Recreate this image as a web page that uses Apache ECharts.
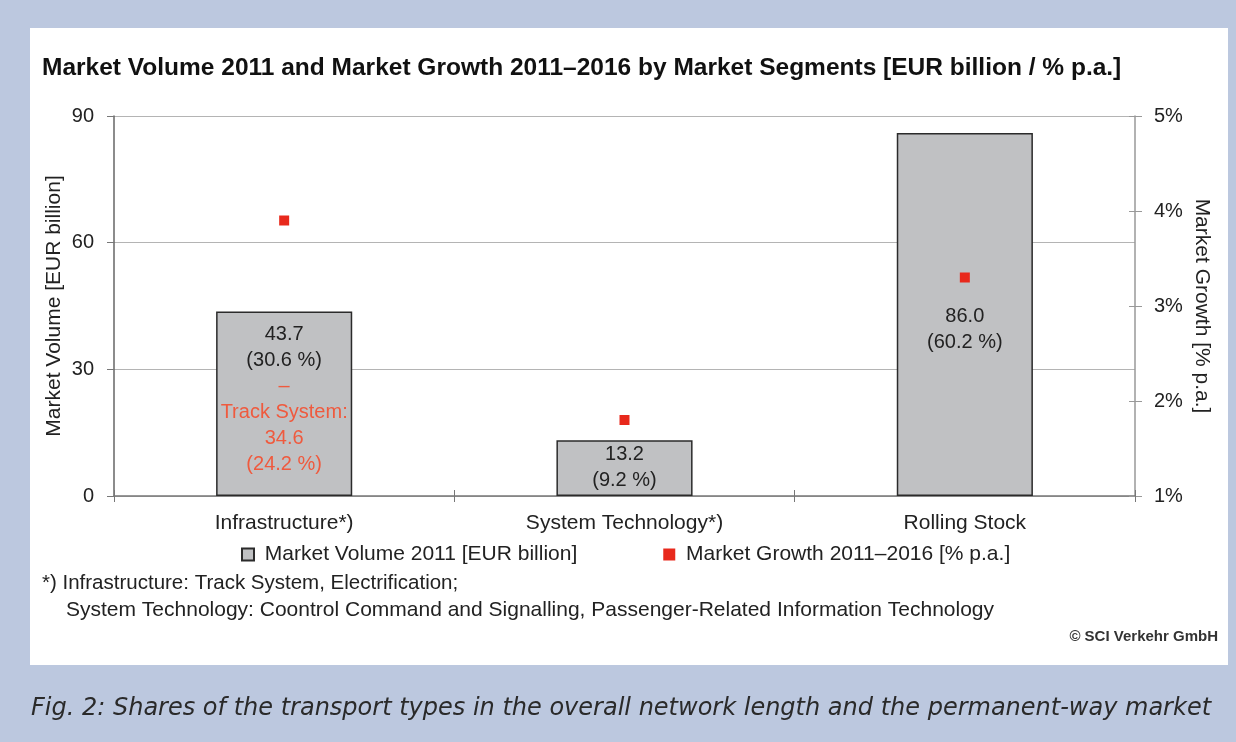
<!DOCTYPE html>
<html>
<head>
<meta charset="utf-8">
<script src="https://cdn.jsdelivr.net/npm/echarts@6/dist/echarts.min.js"></script>
<style>
  html, body { margin: 0; padding: 0; background: #bcc8df; }
  #chart { width: 1236px; height: 742px; }
</style>
</head>
<body>
<div id="chart"></div>
<script>
// data
const segments = ['Infrastructure*)', 'System Technology*)', 'Rolling Stock'];
const volume2011 = [43.7, 13.2, 86.0];           // EUR billion
const volumeShare = ['30.6 %', '9.2 %', '60.2 %'];
const growth = [3.9, 1.8, 3.3];                  // % p.a. 2011-2016
const trackSystem = { value: '34.6', share: '24.2 %' };
const volumeTicks = [0, 30, 60, 90];
const growthTicks = [1, 2, 3, 4, 5];

const FONT = '"Liberation Sans", Arial, Helvetica, sans-serif';
const chart = echarts.init(document.getElementById('chart'));

// label offsets so the text sits where the original has it
const labelOffsets = [[0, -4.5], [0, -1], [0, 15]];

const barData = volume2011.map((v, i) => {
  let text = '{a|' + v.toFixed(1) + '}\n{a|(' + volumeShare[i] + ')}';
  if (i === 0) {
    text += '\n{r|–}\n{r|Track System:}\n{r|' + trackSystem.value + '}\n{r|(' + trackSystem.share + ')}';
  }
  return {
    value: v,
    label: { show: true, position: 'inside', offset: labelOffsets[i], formatter: text }
  };
});

const option = {
  backgroundColor: '#bcc8df',
  animation: false,
  textStyle: { fontFamily: FONT },
  graphic: [
    { type: 'rect', z: -10, shape: { x: 30, y: 28, width: 1198, height: 637 }, style: { fill: '#ffffff' } },
    { type: 'text', left: 42, top: 56, style: { text: 'Market Volume 2011 and Market Growth 2011–2016 by Market Segments [EUR billion / % p.a.]', font: 'bold 24.5px ' + FONT, fill: '#111' } },
    { type: 'text', left: 42, top: 573, style: { text: '*) Infrastructure: Track System, Electrification;', font: '20.5px ' + FONT, fill: '#222' } },
    { type: 'text', left: 66, top: 600, style: { text: 'System Technology: Coontrol Command and Signalling, Passenger-Related Information Technology', font: '21px ' + FONT, fill: '#222' } },
    { type: 'text', right: 18, top: 629, style: { text: '© SCI Verkehr GmbH', font: 'bold 15px ' + FONT, fill: '#333' } },
    { type: 'text', left: 31, top: 697, style: { text: 'Fig. 2: Shares of the transport types in the overall network length and the permanent-way market', font: 'oblique 24px "DejaVu Sans", sans-serif', fill: '#2a2a2a' } }
  ],
  legend: {
    left: 236,
    top: 539,
    itemWidth: 12,
    itemHeight: 12,
    itemGap: 86,
    formatter: name => ' ' + name,
    textStyle: { fontSize: 21, color: '#222', fontFamily: FONT },
    data: [
      { name: 'Market Volume 2011 [EUR billion]', icon: 'rect' },
      { name: 'Market Growth 2011–2016 [% p.a.]', icon: 'rect' }
    ]
  },
  grid: { left: 114, right: 101, top: 116, bottom: 246 },
  xAxis: [
    {
      type: 'category',
      data: segments,
      axisLine: { lineStyle: { color: '#777', width: 1.5 } },
      axisTick: { show: true, length: 6, lineStyle: { color: '#777' } },
      axisLabel: { fontSize: 21, color: '#222', margin: 17 }
    },
    {
      // inner half of the cross ticks on the category axis
      type: 'category',
      data: segments,
      position: 'bottom',
      axisLine: { show: false },
      axisTick: { show: true, inside: true, length: 6, lineStyle: { color: '#777' } },
      axisLabel: { show: false }
    }
  ],
  yAxis: [
    {
      type: 'value',
      min: volumeTicks[0],
      max: volumeTicks[volumeTicks.length - 1],
      interval: 30,
      name: 'Market Volume [EUR billion]',
      nameLocation: 'middle',
      nameGap: 49,
      nameMoveOverlap: false,
      nameTextStyle: { fontSize: 21, color: '#222' },
      axisLine: { show: true, lineStyle: { color: '#666', width: 1.5 } },
      axisTick: { show: true, length: 7, lineStyle: { color: '#777' } },
      axisLabel: { fontSize: 20, color: '#222', margin: 20 },
      splitLine: { lineStyle: { color: '#b4b4b4', width: 1.2 } }
    },
    {
      type: 'value',
      position: 'right',
      min: growthTicks[0],
      max: growthTicks[growthTicks.length - 1],
      interval: 1,
      name: 'Market Growth [% p.a.]',
      nameLocation: 'middle',
      nameRotate: -90,
      nameGap: 56,
      nameMoveOverlap: false,
      nameTextStyle: { fontSize: 21, color: '#222' },
      axisLine: { show: true, lineStyle: { color: '#999', width: 1.5 } },
      axisTick: { show: true, length: 7, lineStyle: { color: '#999' } },
      axisLabel: { fontSize: 20, color: '#222', margin: 19, formatter: '{value}%' },
      splitLine: { show: false }
    },
    {
      // inner half of the cross ticks on the growth axis
      type: 'value',
      position: 'right',
      min: growthTicks[0],
      max: growthTicks[growthTicks.length - 1],
      interval: 1,
      axisLine: { show: false },
      axisTick: { show: true, inside: true, length: 6, lineStyle: { color: '#999' } },
      axisLabel: { show: false },
      splitLine: { show: false }
    }
  ],
  series: [
    {
      name: 'Market Volume 2011 [EUR billion]',
      type: 'bar',
      yAxisIndex: 0,
      barWidth: '40%',
      data: barData,
      itemStyle: { color: '#c0c1c3', borderColor: '#2b2b2b', borderWidth: 1.5 },
      label: {
        show: true,
        rich: {
          a: { fontSize: 20, color: '#222', lineHeight: 26, fontFamily: FONT },
          r: { fontSize: 20, color: '#ef5a3e', lineHeight: 26, fontFamily: FONT }
        }
      },
      z: 2
    },
    {
      name: 'Market Growth 2011–2016 [% p.a.]',
      type: 'scatter',
      yAxisIndex: 1,
      symbol: 'rect',
      symbolSize: 10,
      data: growth,
      itemStyle: { color: '#e8291c', opacity: 1 },
      z: 5
    }
  ]
};

chart.setOption(option);
</script>
</body>
</html>
